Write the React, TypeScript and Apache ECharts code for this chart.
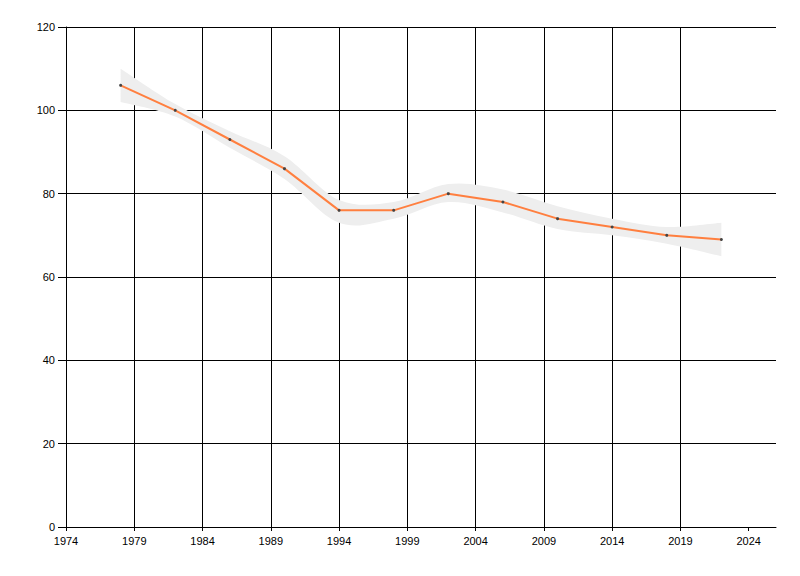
import React, { useEffect, useRef } from "react";
import * as echarts from "echarts";

const years = [1978, 1982, 1986, 1990, 1994, 1998, 2002, 2006, 2010, 2014, 2018, 2022];
const values = [106, 100, 93, 86, 76, 76, 80, 78, 74, 72, 70, 69];
const lowerBand = [102, 98.5, 91, 83.5, 73, 74, 78, 75.5, 71.5, 70, 68, 65];
const upperBand = [110, 101.5, 95, 89, 78.5, 78, 82.3, 81, 77, 74, 72, 73];
const xTicks = [1974, 1979, 1984, 1989, 1994, 1999, 2004, 2009, 2014, 2019, 2024];

function smoothSegs(pts: number[][]): string {
  let d = "";
  for (let i = 0; i < pts.length - 1; i++) {
    const p0 = pts[Math.max(0, i - 1)];
    const p1 = pts[i];
    const p2 = pts[i + 1];
    const p3 = pts[Math.min(pts.length - 1, i + 2)];
    const c1x = p1[0] + (p2[0] - p0[0]) / 6;
    const c1y = p1[1] + (p2[1] - p0[1]) / 6;
    const c2x = p2[0] - (p3[0] - p1[0]) / 6;
    const c2y = p2[1] - (p3[1] - p1[1]) / 6;
    d += ` C ${c1x} ${c1y} ${c2x} ${c2y} ${p2[0]} ${p2[1]}`;
  }
  return d;
}

export default function App() {
  const ref = useRef<HTMLDivElement>(null);
  useEffect(() => {
    if (!ref.current) return;
    const chart = echarts.init(ref.current, null, { renderer: "svg" });
    const font = "Liberation Sans";
    chart.setOption({
      animation: false,
      backgroundColor: "#ffffff",
      grid: { left: 66, right: 24, top: 27, bottom: 49, containLabel: false },
      xAxis: {
        type: "value",
        min: 1974,
        max: 2026,
        interval: 5,
        axisLine: { lineStyle: { color: "#000", width: 1 } },
        axisTick: { show: true, length: 4, lineStyle: { color: "#000" }, customValues: xTicks },
        axisLabel: {
          color: "#000",
          fontFamily: font,
          fontSize: 11,
          margin: 8,
          customValues: xTicks,
          formatter: (v: number) => String(v),
        },
        splitLine: { show: true, showMaxLine: false, lineStyle: { color: "#000", width: 1 } },
      },
      yAxis: {
        type: "value",
        min: 0,
        max: 120,
        interval: 20,
        axisLine: { show: true, lineStyle: { color: "#000", width: 1 } },
        axisTick: { show: true, length: 8, lineStyle: { color: "#000" } },
        axisLabel: { color: "#000", fontFamily: font, fontSize: 11, margin: 11 },
        splitLine: { show: true, lineStyle: { color: "#000", width: 1 } },
      },
      series: [
        {
          type: "custom",
          silent: true,
          data: [[years[0], values[0]]],
          renderItem: (params: any, api: any) => {
            const up = years.map((y, i) => api.coord([y, upperBand[i]]));
            const lo = years.map((y, i) => api.coord([y, lowerBand[i]])).reverse();
            let d = `M ${up[0][0]} ${up[0][1]}`;
            d += smoothSegs(up);
            d += ` L ${lo[0][0]} ${lo[0][1]}`;
            d += smoothSegs(lo);
            d += " Z";
            return {
              type: "path",
              shape: { pathData: d },
              style: { fill: "#eeeeee", stroke: "none" },
            };
          },
        },
        {
          type: "line",
          data: years.map((y, i) => [y, values[i]]),
          symbol: "circle",
          symbolSize: 3,
          showSymbol: true,
          itemStyle: { color: "#444444" },
          lineStyle: { color: "#ff7f3f", width: 2 },
        },
      ],
    });
    return () => chart.dispose();
  }, []);
  return (
    <div
      ref={ref}
      style={{ position: "absolute", left: 0, top: 0, width: 800, height: 576 }}
    />
  );
}
